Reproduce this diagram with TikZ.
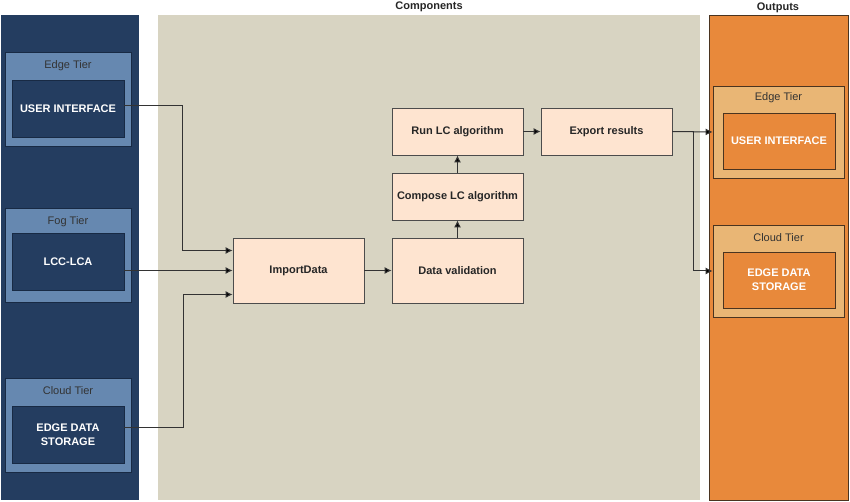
\documentclass[tikz,border=0pt]{standalone}
\usepackage{fontspec}
\setmainfont{Liberation Sans}
\usetikzlibrary{arrows.meta}

\definecolor{navy}{HTML}{243D60}
\definecolor{navyline}{HTML}{182A44}
\definecolor{steel}{HTML}{6688B0}
\definecolor{sand}{HTML}{D8D4C2}
\definecolor{peach}{HTML}{FEE4D0}
\definecolor{orng}{HTML}{E8893B}
\definecolor{tan}{HTML}{E9B675}
\definecolor{brownline}{HTML}{4A3420}

\tikzset{
  panel/.style={rectangle,inner sep=0,minimum height=485},
  tierL/.style={rectangle,draw=navyline,fill=steel,line width=0.8pt,inner sep=0,minimum width=126,minimum height=94},
  innerL/.style={rectangle,draw=navyline,fill=navy,line width=0.8pt,inner sep=0,minimum width=112,minimum height=57,
    text=white,font=\fontsize{11}{14}\selectfont\bfseries,align=center},
  tierR/.style={rectangle,draw=brownline,fill=tan,line width=0.8pt,inner sep=0,minimum width=131,minimum height=92},
  innerR/.style={rectangle,draw=brownline,fill=orng,line width=0.8pt,inner sep=0,minimum width=112,minimum height=56,
    text=white,font=\fontsize{11}{14}\selectfont\bfseries,align=center},
  tiertitle/.style={font=\fontsize{11}{13}\selectfont,text=black!80,inner sep=0},
  header/.style={font=\fontsize{11}{13}\selectfont\bfseries,text=black!85,inner sep=0},
  proc/.style={rectangle,draw=black!70,fill=peach,line width=0.8pt,inner sep=0,minimum width=131,
    font=\fontsize{11}{13}\selectfont\bfseries,text=black!85},
  flow/.style={draw=black!80,line width=1pt,-{Latex[length=7pt,width=7pt,fill=black]}}
}

\begin{document}
\begin{tikzpicture}[x=1pt,y=-1pt]
\useasboundingbox (0,0) rectangle (850,502);

\node[panel,fill=navy,minimum width=138] (inputs) at (70,257.5) {};
\node[panel,fill=sand,minimum width=542] (components) at (429,257.5) {};
\node[panel,fill=orng,draw=brownline,line width=0.8pt,minimum width=139] (outputs) at (778.5,257.5) {};

\node[header] (compH) at (429,7) {Components};
\node[header] (outH) at (778,8) {Outputs};

\node[tierL] (edgeL) at (68,99) {};
\node[tiertitle] (edgeLt) at (68,66) {Edge Tier};
\node[innerL] (uiL) at (68,108.5) {USER INTERFACE};

\node[tierL] (fogL) at (68,255) {};
\node[tiertitle] (fogLt) at (68,222) {Fog Tier};
\node[innerL] (lccL) at (68,262) {LCC-LCA};

\node[tierL] (cloudL) at (68,425) {};
\node[tiertitle] (cloudLt) at (68,391) {Cloud Tier};
\node[innerL] (stL) at (68,435) {EDGE DATA\\STORAGE};

\node[proc,minimum height=65] (impD) at (298.5,270.5) {ImportData};
\node[proc,minimum height=65] (valD) at (457.5,270.5) {Data validation};
\node[proc,minimum height=47] (compLC) at (457.5,196.5) {Compose LC algorithm};
\node[proc,minimum height=47] (runLC) at (457.5,131.5) {Run LC algorithm};
\node[proc,minimum height=47] (expR) at (606.5,131.5) {Export results};

\node[tierR] (edgeR) at (778.5,132) {};
\node[tiertitle] (edgeRt) at (778.5,98) {Edge Tier};
\node[innerR] (uiR) at (779,141) {USER INTERFACE};

\node[tierR] (cloudR) at (778.5,271) {};
\node[tiertitle] (cloudRt) at (778.5,238) {Cloud Tier};
\node[innerR] (stR) at (779,280) {EDGE DATA\\STORAGE};

\draw[flow] ([yshift=3pt]uiL.east) -- ++(58,0) |- ([yshift=20pt]impD.west);
\draw[flow] (lccL.east |- impD.west) -- (impD.west);
\draw[flow] ([yshift=8pt]stL.east) -- ++(59,0) |- ([yshift=-24pt]impD.west);

\draw[flow] (impD) -- (valD);
\draw[flow] (valD) -- (compLC);
\draw[flow] (compLC) -- (runLC);
\draw[flow] (runLC) -- (expR);

\draw[flow] (expR.east) -- (edgeR.west);
\draw[flow] (expR.east) -- ++(21,0) |- (cloudR.west);
\end{tikzpicture}
\end{document}
